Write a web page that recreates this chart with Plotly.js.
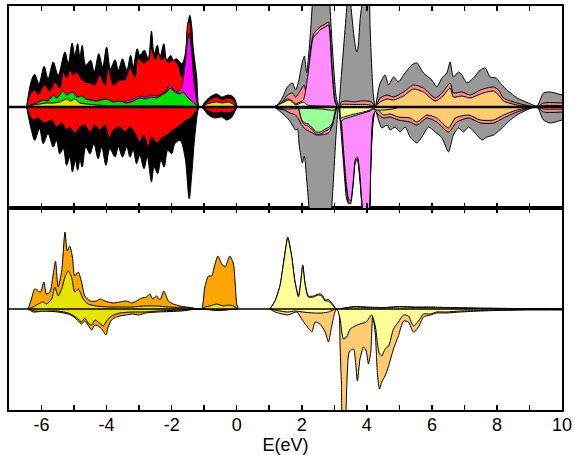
<!DOCTYPE html>
<html>
<head>
<meta charset="utf-8">
<script src="https://cdn.plot.ly/plotly-3.0.1.min.js"></script>
<style>html,body{margin:0;padding:0;background:#fff;}#chart{width:575px;height:455px;}</style>
</head>
<body>
<div id="chart"></div>
<script>
// ---------- axis ticks ----------
const tickVals = [-6,-5,-4,-3,-2,-1,0,1,2,3,4,5,6,7,8,9,10];
const tickText = ['-6','','-4','','-2','','0','','2','','4','','6','','8','','10'];
const zeroX = [-7, 10];
const zeroY = [0, 0];

// ---------- TOP PANEL (spin-resolved PDOS, up > 0, down < 0) ----------
// left block (valence) + small bump below E=0
const blackUpX = [-6.46,-6.31,-6.21,-6.08,-5.92,-5.80,-5.64,-5.49,-5.28,-5.18,-5.06,-4.98,-4.89,-4.82,-4.75,-4.64,-4.49,-4.38,-4.24,-4.12,-4.00,-3.88,-3.74,-3.64,-3.51,-3.38,-3.26,-3.18,-3.06,-2.98,-2.84,-2.72,-2.62,-2.54,-2.44,-2.36,-2.24,-2.15,-2.03,-1.95,-1.85,-1.69,-1.59,-1.49,-1.44,-1.38,-1.34,-1.23,-1.15,-1.08,-0.98,-0.82,-0.62,-0.46,-0.26,-0.10,0.02];
const blackUpY = [0,26.7,32.7,23.3,40.7,28.3,45,31.7,55,43.3,64,51.7,63.3,50,61.7,41.7,46.7,35,53.3,40,60,38.3,47.3,36.7,48.3,36.7,51.7,40,58.3,51.7,56.7,48.3,76,53.3,61.7,50,63.3,46.7,51.7,46.7,48.3,43.3,51.7,85,91.7,80,60,30,0,0,5,10,13,10,12,10,0];
const blackDnX = [-6.46,-6.31,-6.21,-6.06,-5.95,-5.80,-5.64,-5.54,-5.44,-5.33,-5.23,-5.13,-5.05,-4.96,-4.89,-4.82,-4.75,-4.64,-4.51,-4.39,-4.26,-4.15,-4.02,-3.90,-3.74,-3.64,-3.51,-3.38,-3.28,-3.18,-3.08,-2.98,-2.85,-2.75,-2.62,-2.54,-2.43,-2.33,-2.23,-2.12,-2.00,-1.90,-1.74,-1.59,-1.46,-1.38,-1.28,-1.15,-1.08,-0.87,-0.67,-0.46,-0.31,-0.15,-0.05,0.02];
const blackDnY = [0,-23.3,-33.3,-21.7,-36.7,-26.7,-40,-33.3,-46.7,-41.7,-58.3,-50,-65,-53.3,-63.3,-53.3,-60,-40,-46.7,-36.7,-51.7,-40,-58.3,-41.7,-50,-40,-50,-40,-50,-43.3,-56.7,-48.3,-61.7,-50,-75,-60,-66.7,-53.3,-60,-43.3,-46.7,-36.7,-33.3,-50,-91.7,-66.7,-26.7,0,0,-8,-11,-10,-13,-10,-4,0];
const redUpX = [-6.46,-6.36,-6.21,-6.10,-5.90,-5.74,-5.59,-5.44,-5.33,-5.23,-5.13,-5.03,-4.92,-4.82,-4.67,-4.51,-4.36,-4.21,-4.05,-3.95,-3.79,-3.59,-3.44,-3.28,-3.13,-3.03,-2.87,-2.72,-2.62,-2.51,-2.41,-2.31,-2.21,-2.10,-1.95,-1.80,-1.69,-1.59,-1.49,-1.44,-1.38,-1.28,-1.16,-1.06,-0.98,-0.82,-0.62,-0.46,-0.26,-0.10,0.00];
const redUpY = [0,12,17,13,22,16,25,19,35,29,37,32,35,30,25,24,22,32,22,39,22,27,27,39,30,49,44,47,59,47,54,47,50,44,47,42,30,40,85,84,57,24,0,0,3,7,10,7,9,7,0];
const redDnX = [-6.46,-6.26,-6.10,-5.90,-5.69,-5.54,-5.38,-5.23,-5.13,-4.98,-4.82,-4.67,-4.51,-4.36,-4.21,-4.05,-3.92,-3.79,-3.59,-3.44,-3.28,-3.13,-2.98,-2.87,-2.72,-2.62,-2.46,-2.31,-2.15,-1.95,-1.74,-1.54,-1.38,-1.25,-1.16,-1.06,-0.87,-0.67,-0.46,-0.31,-0.15,0.00];
const redDnY = [0,-13,-11,-16,-13,-20,-16,-23,-20,-26,-20,-18,-25,-18,-23,-18,-31,-23,-20,-25,-20,-26,-35,-28,-40,-30,-36,-31,-28,-23,-18,-13,-10,-4,0,0,-4,-6,-5,-6,-5,0];
const magUpX = [-3.60,-3.40,-3.18,-2.98,-2.80,-2.62,-2.46,-2.36,-2.25,-2.15,-2.05,-1.95,-1.80,-1.69,-1.59,-1.51,-1.46,-1.38,-1.31,-1.22,-1.16];
const magUpY = [0,6,8,11,10,12,11,12,14,17,22,18,15,20,42,67,74,54,24,5,0];
const greenUpX = [-6.46,-6.41,-6.15,-5.95,-5.80,-5.64,-5.54,-5.33,-5.23,-5.05,-4.92,-4.77,-4.62,-4.31,-4.00,-3.80,-3.59,-3.38,-3.18,-2.98,-2.80,-2.62,-2.46,-2.31,-2.15,-2.05,-1.90,-1.75,-1.64,-1.49,-1.31,-1.16];
const greenUpY = [0,1,4,7,6,12,9,16,12,15,10,11,8,6,8,5,6,4,6,9,8,10,9,12,15,19,15,13,15,9,4,0];
const yelUpX = [-6.46,-6.26,-6.05,-5.85,-5.64,-5.44,-5.23,-5.10,-4.98,-4.82,-4.62,-4.31,-3.90,-3.00,-2.00,-1.16,-1.06,-0.92,-0.62,-0.46,-0.26,-0.12,-0.02];
const yelUpY = [0,2,3,4,4,5,8,6,8,4,3,2,1,1,1,0,0,3,5,4,5,3,0];

// right block (conduction)
const greyUpX = [1.15,1.28,1.40,1.56,1.71,1.81,1.90,1.97,2.02,2.08,2.15,2.22,2.28,2.34,2.45,2.60,2.75,2.85,2.92,2.98,3.05,3.13,3.20,3.28,3.38,3.45,3.50,3.59,3.66,3.69,3.73,3.80,3.86,3.95,4.05,4.10,4.15,4.20,4.26,4.36,4.41,4.56,4.67,4.82,4.97,5.13,5.38,5.54,5.74,6.00,6.15,6.31,6.46,6.56,6.66,6.82,6.92,7.08,7.28,7.49,7.64,7.79,7.97,8.15,8.31,8.62,8.97,9.23,9.43,9.64,10.0];
const greyUpY = [0,3,9,20,24,17,25,37,45,51,34,55,80,110,150,160,150,110,70,40,12,0,25,57,98,130,105,75,58,55,60,90,105,150,140,80,40,12,0,18,24,32,22,30,25,32,42,44,34,27,20,29,34,45,30,35,32,24,29,37,39,30,29,22,17,9,4,1,14,15,12];
const greyDnX = [1.15,1.28,1.46,1.61,1.71,1.81,1.87,1.92,2.02,2.08,2.15,2.22,2.30,2.60,2.85,2.92,2.97,3.05,3.13,3.20,3.28,3.38,3.45,3.55,3.65,3.71,3.78,3.88,3.95,4.05,4.12,4.18,4.26,4.36,4.46,4.62,4.72,4.87,5.02,5.18,5.33,5.54,5.69,5.90,6.10,6.31,6.51,6.66,6.82,6.97,7.13,7.33,7.54,7.69,7.90,8.15,8.41,8.72,9.23,9.43,9.64,10.0];
const greyDnY = [0,-3,-8,-13,-18,-23,-22,-38,-56,-49,-72,-100,-140,-160,-130,-101,-75,-30,0,-22,-55,-92,-97,-80,-55,-53,-70,-110,-140,-130,-60,-20,-3,-13,-21,-18,-23,-20,-25,-20,-30,-36,-30,-20,-25,-31,-45,-28,-21,-25,-20,-26,-33,-30,-28,-21,-13,-6,0,-13,-16,-13];
const salUpX = [1.15,1.28,1.40,1.56,1.71,1.81,1.97,2.07,2.13,2.20,2.28,2.36,2.46,2.56,2.72,2.82,2.87,2.92,3.02,3.10,3.16,3.22,3.40,3.60,3.80,4.00,4.15,4.26,4.41,4.62,4.82,5.13,5.43,5.74,6.10,6.31,6.56,6.66,6.92,7.18,7.49,7.69,7.90,8.05,8.20,8.62,9.23,9.43,10.0];
const salUpY = [0,2,5,12,14,10,17,22,15,30,60,73,77,80,83,85,75,45,8,0,0,5,6,5,6,6,5,0,9,12,10,15,22,19,9,14,24,14,15,12,17,19,20,17,9,4,0,4,4];
const salDnX = [1.15,1.30,1.46,1.64,1.81,1.90,2.00,2.07,2.15,2.33,2.45,2.58,2.75,2.85,2.94,3.00,3.06,3.10,3.16,3.22,3.30,3.38,3.44,3.50,3.58,3.65,3.71,3.78,3.85,3.95,4.05,4.12,4.18,4.26,4.36,4.51,4.72,4.97,5.33,5.54,5.85,6.15,6.51,6.77,7.13,7.49,7.90,8.20,8.62,9.23,9.43,10.0];
const salDnY = [0,-2,-3,-6,-8,-12,-18,-21,-23,-26,-28,-28,-27,-25,-18,-10,-3,0,0,-15,-52,-83,-95,-97,-78,-54,-52,-68,-98,-115,-115,-62,-15,-4,-8,-11,-10,-13,-15,-18,-11,-15,-25,-15,-11,-16,-16,-11,-5,0,-5,-5];
const pinkUpX = [1.15,1.30,1.56,1.71,1.81,1.95,2.05,2.10,2.20,2.31,2.36,2.46,2.56,2.72,2.82,2.87,2.92,3.02,3.10];
const pinkUpY = [0,3,8,6,3,5,7,13,35,63,70,73,77,80,82,70,40,5,0];
const pinkDnX = [1.90,1.95,2.02,2.10,2.20,2.33,2.45,2.58,2.72,2.85,2.94,3.02,3.08,3.16,3.20,3.23,3.30,3.38,3.44,3.50,3.58,3.65,3.71,3.78,3.85,3.92,4.02,4.08,4.12,4.15,4.20,4.28,4.35,4.45];
const pinkDnY = [0,-8,-15,-18,-19,-23,-27,-27,-24,-22,-18,-6,0,0,-9,-19,-50,-80,-92,-94,-75,-52,-50,-65,-95,-110,-110,-100,-60,-25,-8,-3,-1,0];
const orgUpX = [4.26,4.41,4.62,4.82,5.13,5.43,5.74,6.10,6.31,6.56,6.66,6.92,7.18,7.49,7.69,7.90,8.05,8.20,8.62,9.23,9.43,10.0];
const orgUpY = [0,5,8,7,11,18,15,6,10,19,10,11,9,13,15,16,12,6,2,0,1.5,1.5];
const orgDnX = [4.30,4.41,4.51,4.72,4.97,5.33,5.54,5.85,6.15,6.51,6.72,7.13,7.49,7.90,8.20,8.62,9.23,9.43,10.0];
const orgDnY = [0,-5,-8,-7,-10,-11,-15,-8,-11,-21,-11,-8,-13,-13,-8,-3,0,-2,-2];
const lgrDnX = [1.90,1.94,2.00,2.10,2.20,2.33,2.45,2.58,2.72,2.85,2.94,3.00,3.05,3.08,3.16,3.20,3.30,3.50,3.70,3.90,4.10,4.20,4.28,4.33,4.40];
const lgrDnY = [0,-6,-13,-16,-17,-21,-25,-25,-22,-20,-16,-8,-1,0,0,-14,-12,-10,-8,-6,-4,-2,-4,-2,0];
const lyeUpX = [1.15,1.40,1.61,1.71,1.81,1.97,2.07,2.17,2.50,3.00,3.10,3.16,3.25,3.60,4.00,4.20,4.26];
const lyeUpY = [0,4,7,5,2,4,5,2,1,0.5,0,0,2.5,2.5,2.5,1,0];
const lyeDnX = [1.15,1.30,1.60,1.90,2.20,2.60,3.00,3.08,3.16,3.20,3.30,3.50,3.70,3.90,4.10,4.20,4.30,4.50,4.80,5.00];
const lyeDnY = [0,-1.5,-2,-1.5,-1.5,-2,-3,0,0,-11,-10,-8,-6.5,-5,-3,-1,-3,-3,-2,0];

// ---------- BOTTOM PANEL ----------
const oraUpX = [-6.41,-6.31,-6.21,-6.10,-6.03,-5.93,-5.85,-5.74,-5.64,-5.57,-5.49,-5.38,-5.28,-5.21,-5.13,-5.05,-4.98,-4.87,-4.77,-4.67,-4.51,-4.31,-4.21,-4.05,-3.95,-3.80,-3.59,-3.38,-3.23,-3.08,-2.92,-2.77,-2.67,-2.58,-2.46,-2.36,-2.24,-2.10,-1.95,-1.74,-1.54,-1.34,-1.23,-1.08,-0.98,-0.87,-0.77,-0.69,-0.58,-0.46,-0.36,-0.21,-0.10,0.00,0.05];
const oraUpY = [0,10,20,18,17,27,15,17,35,48,22,38,77,58,63,52,33,37,27,13,8,8,10,8,7,6,7,8,6,8,11,12,15,10,13,9,18,8,5,3,2,1,0,0,22,33,33,42,53,45,42,53,45,5,0];
const olvUpX = [-6.41,-6.26,-6.10,-5.95,-5.85,-5.69,-5.59,-5.49,-5.38,-5.28,-5.18,-5.08,-4.98,-4.87,-4.72,-4.57,-4.31,-3.95,-3.59,-3.18,-2.87,-2.46,-2.10,-1.54,-1.23,-1.08,-0.98,-0.82,-0.62,-0.41,-0.26,-0.10,0.03];
const olvUpY = [0,2,5,7,5,10,22,13,20,32,38,32,17,20,10,5,3,2,2,2,3,3,2,1,0,0,2,3,5,3,4,3,0];
const oraDnX = [-6.41,-6.26,-5.90,-5.50,-5.18,-5.00,-4.87,-4.77,-4.67,-4.57,-4.46,-4.36,-4.26,-4.15,-4.02,-3.95,-3.85,-3.70,-3.59,-3.40,-3.20,-3.00,-2.80,-2.40,-1.70,-1.23,-1.08,-0.60,0.03];
const oraDnY = [0,-3,-2,-3,-5,-8,-12,-15,-12,-16,-21,-16,-17,-20,-26,-18,-11,-8,-7,-6,-5,-6,-4,-3,-2,0,0,-1.5,0];
const olvDnX = [-6.41,-6.20,-5.50,-5.18,-5.00,-4.87,-4.77,-4.67,-4.57,-4.46,-4.36,-4.26,-4.10,-4.00,-3.85,-3.59,-3.20,-2.80,-2.40,-1.70,-1.23,-1.08,-0.60,0.03];
const olvDnY = [0,-2,-2,-4,-7,-10,-13,-9,-14,-16,-11,-13,-17,-12,-7,-4,-3,-3,-2,-1,0,0,-1,0];
const ltoUpX = [1.02,1.18,1.33,1.46,1.57,1.69,1.79,1.90,1.97,2.03,2.10,2.20,2.36,2.51,2.62,2.72,2.82,2.97,3.06,3.30,3.60,4.00,4.50,5.00,5.50,6.00,6.50,7.50,8.50,10.0];
const ltoUpY = [0,8.5,23.5,51,72,53,28,13,28,44,26,13,13,15,14.5,9,9.5,4,0,1,2.5,2,1.5,2.5,2,2,1.5,1,0.5,0.5];
const ltyUpX = [1.02,1.18,1.33,1.46,1.57,1.69,1.79,1.90,1.97,2.03,2.10,2.20,2.36,2.51,2.62,2.72,2.82,2.97,3.06,3.30,3.60,4.00,4.50,5.00,5.50,6.00,6.50,7.50,8.50,10.0];
const ltyUpY = [0,8,23,50,71,52,27,12,27,43,25,12,12,14,13,8,8,3,0,0.5,2,1.5,1,2,1.5,1.5,1,0.5,0.3,0.3];
const ltoDnX = [1.02,1.18,1.57,1.85,2.00,2.15,2.31,2.41,2.56,2.72,2.82,2.92,3.02,3.08,3.14,3.18,3.22,3.26,3.33,3.38,3.46,3.59,3.71,3.79,3.90,3.98,4.05,4.12,4.18,4.26,4.33,4.39,4.46,4.56,4.67,4.82,4.97,5.13,5.28,5.43,5.59,5.74,5.95,6.15,6.46,6.87,7.50,8.00,9.00,10.0];
const ltoDnY = [0,-3,-6,-3,-10,-17,-23,-13,-15,-23,-33,-17,-3,0,-3,-40,-75,-110,-110,-80,-43,-40,-72,-50,-38,-42,-55,-43,-7,-25,-67,-80,-73,-67,-57,-40,-27,-12,-13,-23,-18,-8,-6,-4,-4,-3,-2,-1.5,-1,-1];
const ltyDnX = [1.02,1.33,1.57,1.79,2.03,2.36,2.62,2.82,2.97,3.06,3.10,3.18,3.28,3.38,3.49,3.64,3.79,3.98,4.15,4.26,4.33,4.39,4.46,4.56,4.67,4.82,4.97,5.13,5.28,5.43,5.59,5.74,5.95,6.15,6.46,6.87,7.50,8.00,9.00,10.0];
const ltyDnY = [0,-2,-3,-2,-3,-4,-4,-3,-1,0,-1,-10,-30,-28,-20,-17,-15,-13,-6,-17,-35,-45,-47,-40,-37,-20,-13,-6,-7,-17,-12,-5,-5,-3,-3,-2,-1.5,-1,-0.5,-0.5];

// ---------- build ----------
function area(x, y, color, xa, ya, sm) {
  return {type:'scatter', mode:'lines', x:x, y:y, xaxis:xa, yaxis:ya,
    fill:'tozeroy', fillcolor:color,
    line:{color:'#000', width:1, shape:'spline', smoothing:(sm===undefined?0.6:sm)},
    hoverinfo:'skip', showlegend:false};
}
function zline(xa, ya, w) {
  return {type:'scatter', mode:'lines', x:zeroX, y:zeroY, xaxis:xa, yaxis:ya,
    line:{color:'#000', width:w}, hoverinfo:'skip', showlegend:false};
}
const data = [
  area(blackUpX, blackUpY, '#000000', 'x2', 'y2', 0.9),
  area(blackDnX, blackDnY, '#000000', 'x2', 'y2', 0.9),
  area(redUpX, redUpY, '#ff0000', 'x2', 'y2', 0.8),
  area(redDnX, redDnY, '#ff0000', 'x2', 'y2', 0.8),
  area(magUpX, magUpY, '#ff00ff', 'x2', 'y2'),
  area(greenUpX, greenUpY, '#00e000', 'x2', 'y2'),
  area(yelUpX, yelUpY, '#e6e600', 'x2', 'y2'),
  area(greyUpX, greyUpY, '#999999', 'x2', 'y2'),
  area(greyDnX, greyDnY, '#999999', 'x2', 'y2'),
  area(salUpX, salUpY, '#ff8a8a', 'x2', 'y2'),
  area(salDnX, salDnY, '#ff8a8a', 'x2', 'y2'),
  area(pinkUpX, pinkUpY, '#ff8cff', 'x2', 'y2'),
  area(pinkDnX, pinkDnY, '#ff8cff', 'x2', 'y2'),
  area(orgUpX, orgUpY, '#ffcc70', 'x2', 'y2'),
  area(orgDnX, orgDnY, '#ffcc70', 'x2', 'y2'),
  area(lgrDnX, lgrDnY, '#99ff99', 'x2', 'y2'),
  area(lyeUpX, lyeUpY, '#ffff99', 'x2', 'y2'),
  area(lyeDnX, lyeDnY, '#ffff99', 'x2', 'y2'),
  zline('x2', 'y2', 2.5),
  area(oraUpX, oraUpY, '#ffa500', 'x', 'y'),
  area(oraDnX, oraDnY, '#ffa500', 'x', 'y'),
  area(olvUpX, olvUpY, '#e6e600', 'x', 'y'),
  area(olvDnX, olvDnY, '#e6e600', 'x', 'y'),
  area(ltoUpX, ltoUpY, '#ffcc70', 'x', 'y'),
  area(ltoDnX, ltoDnY, '#ffcc70', 'x', 'y'),
  area(ltyUpX, ltyUpY, '#ffff99', 'x', 'y'),
  area(ltyDnX, ltyDnY, '#ffff99', 'x', 'y'),
  zline('x', 'y', 1.5)
];

const fontFam = 'Liberation Sans, Arial, sans-serif';
const xBase = {range:[-7,10], tickmode:'array', tickvals:tickVals, ticktext:tickText,
  ticks:'inside', ticklen:5, tickwidth:1.5, tickcolor:'#000',
  showline:true, linecolor:'#000', linewidth:2, mirror:'ticks',
  showgrid:false, zeroline:false,
  tickfont:{family:fontFam, size:18, color:'#000'}};
const yBase = {range:[-101,101], showline:true, linecolor:'#000', linewidth:2, mirror:true,
  ticks:'', showticklabels:false, showgrid:false, zeroline:false, fixedrange:true};

const layout = {
  width:575, height:455,
  margin:{l:9, r:13, t:6, b:45},
  paper_bgcolor:'#fff', plot_bgcolor:'#fff',
  showlegend:false,
  font:{family:fontFam, color:'#000'},
  xaxis: Object.assign({}, xBase, {domain:[0,1], anchor:'y', ticklabelstandoff:-3,
    title:{text:'E(eV)', font:{family:fontFam, size:18, color:'#000'}, standoff:4}}),
  xaxis2: Object.assign({}, xBase, {domain:[0,1], anchor:'y2', matches:'x', showticklabels:false}),
  yaxis: Object.assign({}, yBase, {domain:[0,0.5], anchor:'x'}),
  yaxis2: Object.assign({}, yBase, {domain:[0.5,1], anchor:'x2'})
};

Plotly.newPlot('chart', data, layout, {displayModeBar:false, staticPlot:true});
</script>
</body>
</html>
